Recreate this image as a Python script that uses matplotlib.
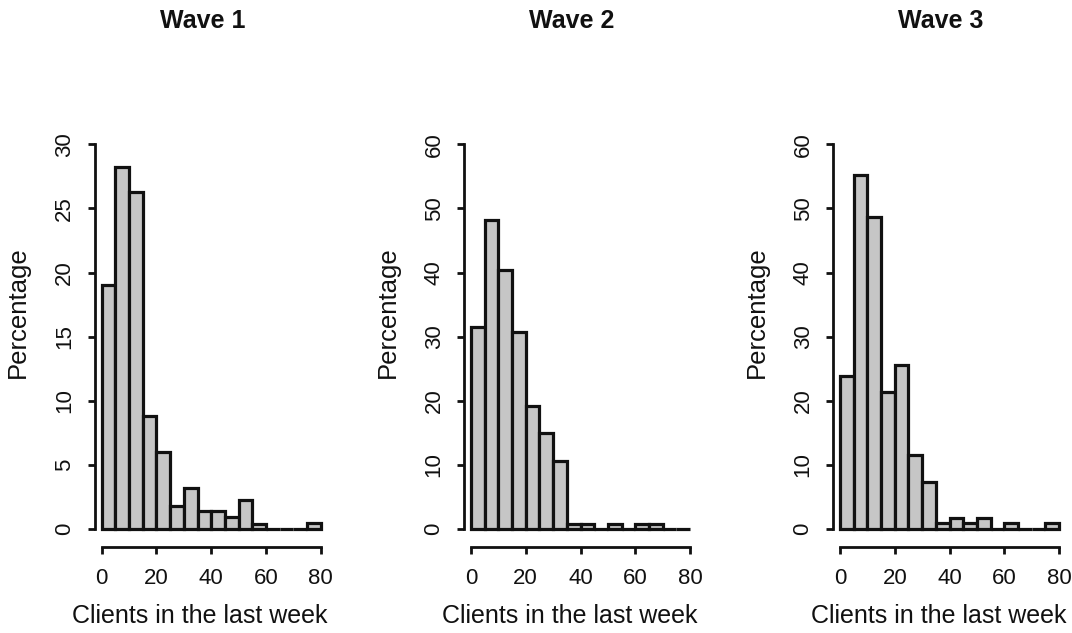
import matplotlib
matplotlib.use("Agg")
import matplotlib.pyplot as plt

# bin edges (width 5, 0-80)
bin_left = [0, 5, 10, 15, 20, 25, 30, 35, 40, 45, 50, 55, 60, 65, 70, 75]

wave1 = [19.0, 28.2, 26.3, 8.8, 6.0, 1.8, 3.2, 1.4, 1.4, 0.9, 2.3, 0.4, 0, 0, 0, 0.5]
wave2 = [31.5, 48.2, 40.4, 30.7, 19.2, 15.0, 10.6, 0.8, 0.8, 0, 0.8, 0, 0.8, 0.8, 0, 0]
wave3 = [23.8, 55.2, 48.6, 21.4, 25.6, 11.6, 7.4, 0.9, 1.7, 0.9, 1.7, 0, 0.9, 0, 0, 0.9]

titles = ["Wave 1", "Wave 2", "Wave 3"]
ymaxes = [30, 60, 60]
ysteps = [5, 10, 10]
xticks = [0, 20, 40, 60, 80]

plt.rcParams['font.family'] = ['Liberation Sans', 'DejaVu Sans']

W, H = 1072, 633
fig = plt.figure(figsize=(W / 100, H / 100), dpi=100)

# left pixel of x=0 for each panel
lefts = [101.7, 471, 840]
pw = 219
y0_px, ytop_px = 529, 144.3

for i, vals in enumerate([wave1, wave2, wave3]):
    ax = fig.add_axes([lefts[i] / W, (H - y0_px) / H, pw / W, (y0_px - ytop_px) / H])
    ax.bar(bin_left, vals, width=5, align='edge', color='#c6c6c6',
           edgecolor='#111111', linewidth=2.3, clip_on=False)
    ax.set_xlim(0, 80)
    ax.set_ylim(0, ymaxes[i])
    ax.set_xticks(xticks)
    ax.set_yticks(list(range(0, ymaxes[i] + 1, ysteps[i])))
    for s in ['top', 'right']:
        ax.spines[s].set_visible(False)
    ax.spines['left'].set_position(('outward', 5))
    ax.spines['bottom'].set_position(('outward', 13))
    ax.spines['left'].set_bounds(0, ymaxes[i])
    ax.spines['bottom'].set_bounds(0, 80)
    for s in ['left', 'bottom']:
        ax.spines[s].set_linewidth(2.0)
        ax.spines[s].set_color('#111111')
    ax.tick_params(length=5, width=2.0, color='#111111', labelsize=16,
                   labelcolor='#111111')
    ax.tick_params(axis='x', pad=10)
    ax.tick_params(axis='y', pad=9, labelrotation=90)
    for lab in ax.get_yticklabels():
        lab.set_va('center')
    ax.set_xlabel("Clients in the last week", fontsize=18, color='#111111')
    ax.xaxis.set_label_coords(0.449, -0.195)
    ax.set_ylabel("Percentage", fontsize=18.5, color='#111111')
    ax.yaxis.set_label_coords(-0.327, 0.563)
    cx = (lefts[i] + 0.462 * pw) / W
    fig.text(cx, 1 - 21 / H, titles[i], fontsize=18, fontweight='bold',
             ha='center', va='center', color='#111111')

fig.savefig("out.png", dpi=100)
